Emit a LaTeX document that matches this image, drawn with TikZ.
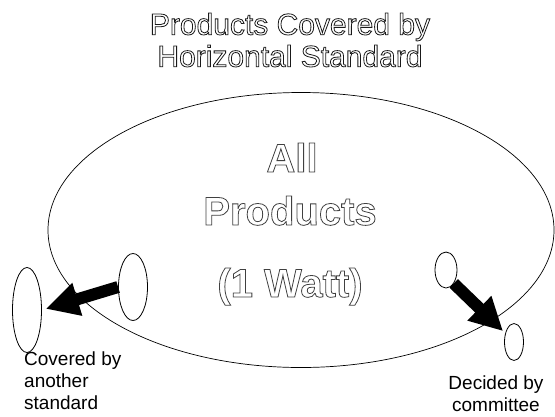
\documentclass[tikz,border=0pt]{standalone}
\usepackage{fontspec}
\setmainfont{Liberation Sans}
\usetikzlibrary{shapes.geometric,arrows.meta}
\newcommand{\hollow}[1]{\special{pdf:literal direct 1 Tr 0.8 w}#1\special{pdf:literal direct 0 Tr}}
\tikzset{
  blob/.style={draw, ellipse, line width=0.8pt, inner sep=0pt},
  bigarrow/.style={line width=12pt, -{Triangle[length=33pt,width=32pt]}},
  lbl/.style={font=\fontsize{19}{22}\selectfont, inner sep=0pt},
  big/.style={font=\fontsize{40}{48}\selectfont\bfseries, inner sep=0pt, text=black!75},
  ttl/.style={font=\fontsize{30}{32}\selectfont, inner sep=0pt, align=center, text=black!90}
}
\begin{document}
\begin{tikzpicture}[x=1pt,y=-1pt]
\useasboundingbox (0,0) rectangle (555,416);
\node[ttl] (title) at (290,40) {\hollow{Products Covered by}\\\hollow{Horizontal Standard}};
\node[draw, ellipse, line width=0.7pt, minimum width=506pt, minimum height=275pt] (all) at (301,230) {};
\node[big, anchor=base] (t1) at (292,172) {\hollow{All}};
\node[big, anchor=base] (t2) at (290,225) {\hollow{Products}};
\node[big, anchor=base] (t3) at (290,297) {\hollow{(1 Watt)}};
\node[blob, minimum width=29pt, minimum height=67pt] (li) at (133,287) {};
\node[blob, minimum width=29pt, minimum height=85pt] (lo) at (27,310) {};
\node[blob, minimum width=22pt, minimum height=36pt] (ri) at (446,270) {};
\node[blob, minimum width=19pt, minimum height=37pt] (ro) at (514,342) {};
\draw[bigarrow, shorten >=4pt] (li.west) -- (lo.east);
\draw[bigarrow, shorten >=3pt] (ri.-60) -- (ro.135);
\node[lbl, align=left, anchor=north west] (cov) at (24,352) {Covered by\\another\\standard};
\node[lbl, align=center, anchor=north] (dec) at (496,376) {Decided by\\committee};
\end{tikzpicture}
\end{document}
